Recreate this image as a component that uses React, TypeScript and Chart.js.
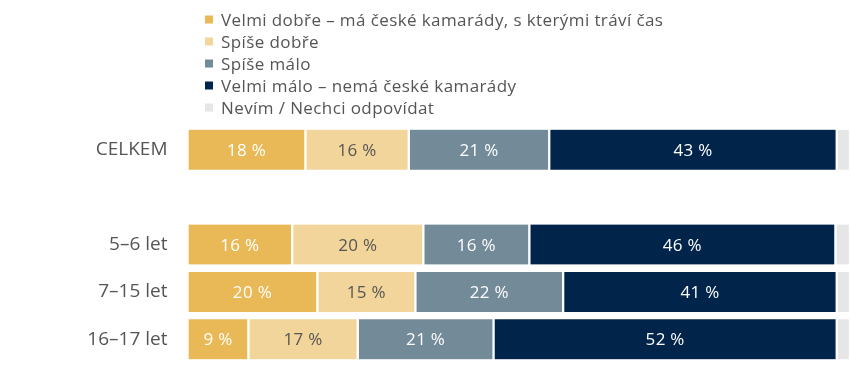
import React, { useEffect, useRef } from "react";
import { Chart, registerables } from "chart.js";

Chart.register(...registerables);

const categories = ["CELKEM", "", "5–6 let", "7–15 let", "16–17 let"];
const seriesLabels = [
  "Velmi dobře – má české kamarády, s kterými tráví čas",
  "Spíše dobře",
  "Spíše málo",
  "Velmi málo – nemá české kamarády",
  "Nevím / Nechci odpovídat",
];
const velmiDobre = [17.8, null, 15.8, 19.6, 9.2];
const spiseDobre = [15.6, null, 19.8, 14.8, 16.5];
const spiseMalo = [21.2, null, 16.0, 22.3, 20.5];
const velmiMalo = [43.4, null, 46.2, 41.3, 51.8];
const nevim = [2.0, null, 2.2, 2.0, 2.0];
const seriesValues = [velmiDobre, spiseDobre, spiseMalo, velmiMalo, nevim];
const colors = ["#EAB957", "#F2D59B", "#738A99", "#00244A", "#E6E6E6"];
const labelColors = ["#ffffff", "#555555", "#ffffff", "#ffffff", null];

const FONT = "'Open Sans', 'Noto Sans', sans-serif";

const legendPlugin = {
  id: "customLegend",
  afterDraw(chart: any) {
    const ctx = chart.ctx;
    ctx.save();
    ctx.font = `17px ${FONT}`;
    if ("letterSpacing" in ctx) ctx.letterSpacing = "0.4px";
    ctx.textAlign = "left";
    ctx.textBaseline = "alphabetic";
    chart.data.datasets.forEach((ds: any, i: number) => {
      const cy = 19.5 + i * 22;
      ctx.fillStyle = ds.backgroundColor;
      ctx.fillRect(205, cy - 4, 8, 8);
      ctx.fillStyle = "#555555";
      ctx.fillText(ds.label, 221, cy + 6);
    });
    ctx.restore();
  },
};

const valueLabelPlugin = {
  id: "valueLabels",
  afterDatasetsDraw(chart: any) {
    const ctx = chart.ctx;
    ctx.save();
    ctx.font = `17px ${FONT}`;
    if ("letterSpacing" in ctx) ctx.letterSpacing = "0.3px";
    ctx.textAlign = "center";
    ctx.textBaseline = "alphabetic";
    chart.data.datasets.forEach((ds: any, i: number) => {
      const col = labelColors[i];
      if (!col) return;
      const meta = chart.getDatasetMeta(i);
      meta.data.forEach((el: any, j: number) => {
        const v = ds.data[j];
        if (v === null || v === undefined) return;
        const cx = (el.x + el.base) / 2;
        ctx.fillStyle = col;
        ctx.fillText(`${Math.round(v)} %`, cx, el.y + 6);
      });
    });
    ctx.restore();
  },
};

export default function App() {
  const ref = useRef<HTMLCanvasElement>(null);
  useEffect(() => {
    if (!ref.current) return;
    const chart = new Chart(ref.current, {
      type: "bar",
      data: {
        labels: categories,
        datasets: seriesValues.map((vals, i) => ({
          label: seriesLabels[i],
          data: vals,
          backgroundColor: colors[i],
          borderColor: "#ffffff",
          borderWidth: { left: 1.5, right: 1.5, top: 0, bottom: 0 },
          borderSkipped: false,
          barThickness: 40,
        })),
      },
      options: {
        indexAxis: "y",
        responsive: false,
        animation: false,
        layout: { padding: { top: 126, bottom: 7, left: 0, right: 0 } },
        plugins: {
          legend: { display: false },
          tooltip: { enabled: false },
        },
        scales: {
          x: {
            stacked: true,
            min: 0,
            max: 100,
            display: false,
            ticks: { display: false },
            grid: { display: false, drawTicks: false },
          },
          y: {
            stacked: true,
            grid: { display: false, drawTicks: false },
            border: { display: false },
            ticks: {
              color: "#555555",
              font: { family: FONT, size: 19 },
              padding: 20,
            },
            afterFit: (scale: any) => {
              scale.width = 187.5;
              scale.paddingTop = 0;
              scale.paddingBottom = 0;
            },
          },
        },
      },
      plugins: [legendPlugin, valueLabelPlugin],
    });
    return () => chart.destroy();
  }, []);
  return (
    <div style={{ position: "fixed", left: 0, top: 0, width: 850, height: 370, background: "#fff" }}>
      <canvas ref={ref} width={850} height={370} style={{ display: "block" }} />
    </div>
  );
}
